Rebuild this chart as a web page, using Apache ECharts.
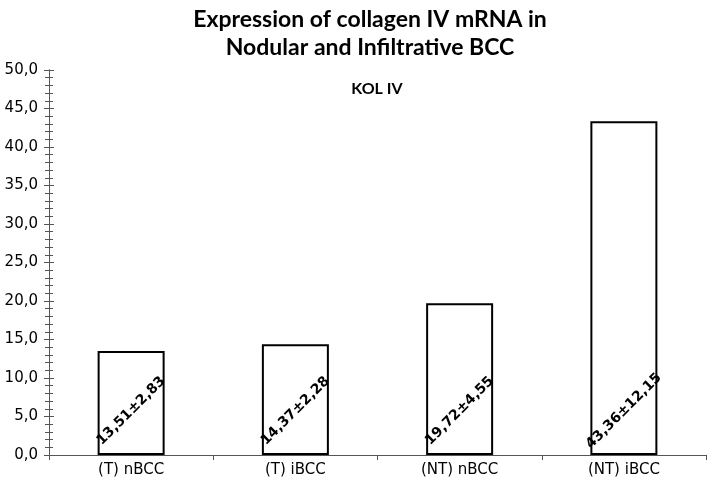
<!DOCTYPE html>
<html>
<head>
<meta charset="utf-8">
<script src="https://cdn.jsdelivr.net/npm/echarts@6/dist/echarts.min.js"></script>
<style>html,body{margin:0;padding:0;background:#fff;}#c{width:708px;height:491px;}</style>
</head>
<body>
<div id="c"></div>
<script>
const categories = ['(T) nBCC', '(T) iBCC', '(NT) nBCC', '(NT) iBCC'];
const values = [13.51, 14.37, 19.72, 43.36];
const sdValues = ['2,83', '2,28', '4,55', '12,15'];
const titleLines = ['Expression of collagen IV mRNA in', 'Nodular and Infiltrative BCC'];
const subTitle = 'KOL IV';

const chart = echarts.init(document.getElementById('c'), null, {renderer: 'canvas'});
const fmt = v => v.toFixed(1).replace('.', ',');
const fmt2 = v => v.toFixed(2).replace('.', ',');
const axisCommon = {
  type: 'value', min: 0, max: 50, interval: 5, position: 'left', offset: 0,
  splitLine: {show: false},
  axisLine: {show: true, lineStyle: {color: '#555', width: 1}},
  minorSplitLine: {show: false}
};
chart.setOption({
  animation: false,
  backgroundColor: '#fff',
  title: [
    {text: titleLines.join('\n'), left: 365, top: 1, textAlign: 'center',
     textStyle: {fontFamily: 'Lato', fontWeight: 'bold', fontSize: 23, lineHeight: 28, color: '#000'}},
    {text: subTitle, left: 372, top: 76, textAlign: 'center',
     textStyle: {fontFamily: 'Lato', fontWeight: 'bold', fontSize: 16, color: '#000'}}
  ],
  grid: {left: 49, right: 2, top: 70, bottom: 36, containLabel: false},
  xAxis: {
    type: 'category', data: categories,
    axisLine: {lineStyle: {color: '#555', width: 1}},
    axisTick: {show: true, length: 5, alignWithLabel: false, lineStyle: {color: '#555'}},
    axisLabel: {fontFamily: 'DejaVu Sans', fontSize: 15, color: '#000', margin: 8}
  },
  yAxis: [
    Object.assign({}, axisCommon, {
      axisTick: {show: true, inside: false, length: 5, lineStyle: {color: '#555'}},
      minorTick: {show: true, splitNumber: 5, length: 4, lineStyle: {color: '#555'}},
      axisLabel: {fontFamily: 'DejaVu Sans', fontSize: 15, color: '#000', margin: 11, formatter: fmt}
    }),
    Object.assign({}, axisCommon, {
      axisTick: {show: true, inside: true, length: 5, lineStyle: {color: '#555'}},
      minorTick: {show: true, splitNumber: 5, length: 4, lineStyle: {color: '#555'}},
      axisLabel: {show: false}
    })
  ],
  series: [{
    type: 'bar', yAxisIndex: 0, data: values, barWidth: 67,
    itemStyle: {color: '#fff', borderColor: '#000', borderWidth: 2},
    label: {
      show: true, position: 'insideBottom', distance: 44, rotate: 45,
      align: 'center', verticalAlign: 'middle',
      fontFamily: 'DejaVu Sans', fontWeight: 'bold', fontSize: 14, color: '#000',
      formatter: p => fmt2(p.value) + '±' + sdValues[p.dataIndex]
    }
  }]
});
</script>
</body>
</html>
